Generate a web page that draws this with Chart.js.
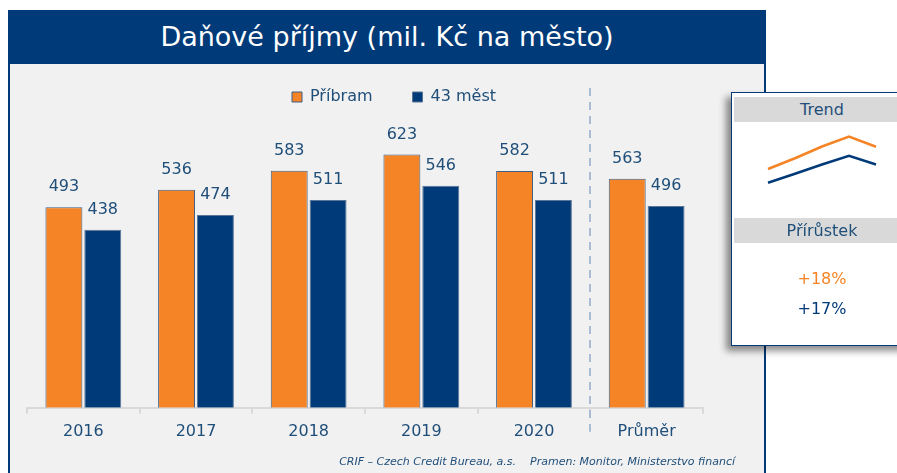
<!DOCTYPE html>
<html lang="cs">
<head>
  <meta charset="UTF-8" />
  <title>Daňové příjmy</title>
  <script src="https://cdn.jsdelivr.net/npm/chart.js@4.4.1/dist/chart.umd.min.js"></script>
  <style>
    body { margin: 0; width: 897px; height: 473px; background: #fff; position: relative; overflow: hidden;
           font-family: "DejaVu Sans", Verdana, sans-serif; color: #1F4E79; }
    #panel { position: absolute; left: 8px; top: 64px; width: 754px; height: 420px; background: #F1F1F1;
             border-left: 2px solid #003A78; border-right: 2px solid #003A78; }
    #title { position: absolute; left: 8px; top: 10px; width: 758px; height: 54px; background: #003A78;
             color: #fff; font-size: 27px; line-height: 54px; text-align: center; z-index: 2; }
    #mainWrap { position: absolute; left: 8px; top: 49px; width: 758px; height: 424px; z-index: 1; }
    #footer { position: absolute; right: 162px; top: 455px; font-size: 11px; font-style: italic; white-space: pre; z-index: 2; }
    #side { position: absolute; left: 731px; top: 92px; width: 180px; height: 252px; background: #fff;
            border: 1.5px solid #003A78; box-shadow: -5px 5px 7px rgba(0,0,0,0.45); z-index: 3; }
    .hdr { position: absolute; left: 2px; right: 0; height: 25px; background: #D9D9D9; font-size: 16px;
           line-height: 25px; }
    .hdr span { position: absolute; left: 0; width: 176px; text-align: center; }
    .pct { position: absolute; left: 2px; width: 176px; text-align: center; font-size: 16px; }
    #trendWrap { position: absolute; left: 2px; top: 32px; width: 163px; height: 90px; }
  </style>
</head>
<body>
<div id="panel"></div>
<div id="title">Daňové příjmy (mil. Kč na město)</div>
<div id="mainWrap"><canvas id="mainChart" width="758" height="424"></canvas></div>
<div id="footer">CRIF – Czech Credit Bureau, a.s.    Pramen: Monitor, Ministerstvo financí</div>
<div id="side">
  <div class="hdr" style="top:4px"><span>Trend</span></div>
  <div id="trendWrap"><canvas id="trendChart" width="163" height="90"></canvas></div>
  <div class="hdr" style="top:125px"><span>Přírůstek</span></div>
  <div class="pct" id="pctA" style="top:176px; color:#F58426"></div>
  <div class="pct" id="pctB" style="top:206px; color:#003A78"></div>
</div>
<script>
  const categories = ["2016", "2017", "2018", "2019", "2020", "Průměr"];
  const pribram = [493, 536, 583, 623, 582, 563];
  const mesta43 = [438, 474, 511, 546, 511, 496];
  const seriesNames = ["Příbram", "43 měst"];

  const orange = "#F58426";
  const navy = "#003A78";
  const textColor = "#1F4E79";
  const font = "'DejaVu Sans', Verdana, sans-serif";

  // number of yearly columns (the last category is the average)
  const yearCount = 5;

  const valueLabels = {
    id: "valueLabels",
    afterDatasetsDraw(chart) {
      const ctx = chart.ctx;
      ctx.save();
      ctx.font = "16px " + font;
      ctx.fillStyle = textColor;
      ctx.textAlign = "center";
      ctx.textBaseline = "middle";
      chart.data.datasets.forEach((ds, i) => {
        chart.getDatasetMeta(i).data.forEach((bar, j) => {
          ctx.fillText(ds.data[j], bar.x, bar.y - 20);
        });
      });
      ctx.restore();
    }
  };

  const separator = {
    id: "separator",
    afterDraw(chart) {
      const x = chart.scales.x;
      const px = (x.getPixelForValue(yearCount - 1) + x.getPixelForValue(yearCount)) / 2;
      const ctx = chart.ctx;
      ctx.save();
      ctx.strokeStyle = "#A9BCD3";
      ctx.lineWidth = 2;
      ctx.setLineDash([8, 6]);
      ctx.beginPath();
      ctx.moveTo(Math.round(px), 39);
      ctx.lineTo(Math.round(px), chart.chartArea.bottom + 24);
      ctx.stroke();
      ctx.restore();
    }
  };

  // legend sits a bit right of the plot centre
  const legendShift = {
    id: "legendShift",
    afterLayout(chart) {
      chart.legend.left += 29;
      chart.legend.right += 29;
    }
  };

  new Chart(document.getElementById("mainChart"), {
    type: "bar",
    data: {
      labels: categories,
      datasets: [
        { label: seriesNames[0], data: pribram, backgroundColor: orange, borderColor: "#3F5F86", borderWidth: 1 },
        { label: seriesNames[1], data: mesta43, backgroundColor: navy, borderColor: "#5B7596", borderWidth: 1 }
      ]
    },
    options: {
      responsive: false,
      animation: false,
      categoryPercentage: 0.69,
      barPercentage: 0.95,
      layout: { padding: { left: 19, right: 63, top: 0, bottom: 24 } },
      plugins: {
        legend: {
          position: "top",
          labels: { boxWidth: 10, boxHeight: 10, padding: 40, color: textColor, font: { size: 16, family: font } }
        },
        tooltip: { enabled: false }
      },
      scales: {
        x: {
          grid: { offset: true, drawOnChartArea: false, drawTicks: true, tickLength: 6, color: "#D9D9D9", lineWidth: 2 },
          border: { color: "#D9D9D9", width: 2 },
          ticks: { color: textColor, padding: 8, font: { size: 16, family: font } }
        },
        y: { display: false, min: 0, max: 720 }
      }
    },
    plugins: [valueLabels, separator, legendShift]
  });

  // small trend lines of the yearly values
  new Chart(document.getElementById("trendChart"), {
    type: "line",
    data: {
      labels: categories.slice(0, yearCount),
      datasets: [
        { data: pribram.slice(0, yearCount), borderColor: orange, borderWidth: 2.5, pointRadius: 0, tension: 0 },
        { data: mesta43.slice(0, yearCount), borderColor: navy, borderWidth: 2.5, pointRadius: 0, tension: 0 }
      ]
    },
    options: {
      responsive: false,
      animation: false,
      layout: { padding: { left: 34, right: 21, top: 0, bottom: 0 } },
      plugins: { legend: { display: false }, tooltip: { enabled: false } },
      scales: {
        x: { display: false },
        y: { display: false, min: 309, max: 669 }
      }
    }
  });

  function growth(arr) {
    return "+" + Math.round((arr[yearCount - 1] / arr[0] - 1) * 100) + "%";
  }
  document.getElementById("pctA").textContent = growth(pribram);
  document.getElementById("pctB").textContent = growth(mesta43);
</script>
</body>
</html>
